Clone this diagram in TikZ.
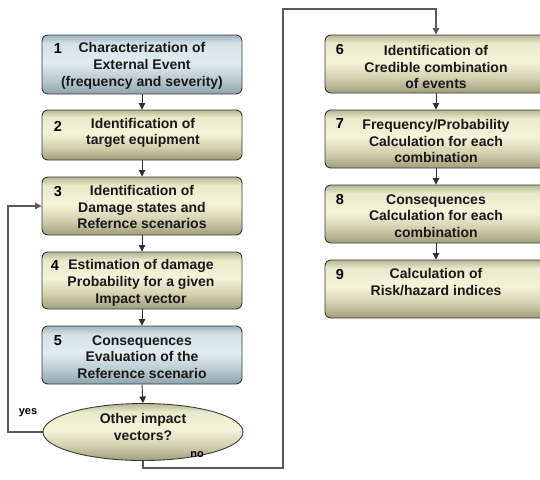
\documentclass[tikz,border=0pt]{standalone}
\usepackage{fontspec}
\setmainfont{Liberation Sans}
\usetikzlibrary{shapes.geometric,arrows.meta}
\definecolor{olT}{HTML}{B6B594}
\definecolor{olU}{HTML}{E9E9CB}
\definecolor{olM}{HTML}{F4F4DA}
\definecolor{olD}{HTML}{D2D0AF}
\definecolor{olB}{HTML}{A09D7A}
\definecolor{blT}{HTML}{9DB2BC}
\definecolor{blU}{HTML}{D3E1E6}
\definecolor{blM}{HTML}{E1ECEF}
\definecolor{blD}{HTML}{BCCCD3}
\definecolor{blB}{HTML}{8FA2AC}
\definecolor{edge}{HTML}{3A3A3A}
\definecolor{wire}{HTML}{303030}
\pgfdeclareverticalshading{olivesh}{100bp}{color(0bp)=(olB); color(25bp)=(olB); color(38bp)=(olD); color(52bp)=(olM); color(68bp)=(olU); color(75bp)=(olT); color(100bp)=(olT)}
\pgfdeclareverticalshading{bluesh}{100bp}{color(0bp)=(blB); color(25bp)=(blB); color(38bp)=(blD); color(52bp)=(blM); color(68bp)=(blU); color(75bp)=(blT); color(100bp)=(blT)}
\tikzset{
  box/.style={draw=edge, line width=0.9pt, rounded corners=6pt, inner sep=0pt},
  olive/.style={shading=olivesh},
  bluish/.style={shading=bluesh},
  txt/.style={align=center, inner sep=0pt, font=\bfseries\fontsize{14}{16.8}\selectfont, text=black!90},
  num/.style={inner sep=0pt, font=\bfseries\fontsize{14.5}{16}\selectfont},
  lab/.style={inner sep=0pt, font=\bfseries\fontsize{11}{13}\selectfont},
  arr/.style={draw=wire, line width=0.9pt, -{Triangle[length=6.5pt,width=6.5pt]}},
}
\begin{document}
\begin{tikzpicture}[x=1pt,y=-1pt]
\useasboundingbox (0,0) rectangle (540,479);
\clip (0,0) rectangle (540,479);
\fill[white] (0,0) rectangle (540,479);

% left column boxes
\node[box,bluish,minimum width=200pt,minimum height=59pt] (b1) at (142,64.5) {};
\node[box,olive,minimum width=200pt,minimum height=50pt] (b2) at (142,135) {};
\node[box,olive,minimum width=200pt,minimum height=58pt] (b3) at (142,206) {};
\node[box,olive,minimum width=200pt,minimum height=57pt] (b4) at (142,280.5) {};
\node[box,bluish,minimum width=200pt,minimum height=58pt] (b5) at (142,355) {};
\node[draw=edge,line width=0.9pt,ellipse,olive,minimum width=200pt,minimum height=57pt,inner sep=0pt] (el) at (143,432) {};

% right column boxes
\node[box,olive,minimum width=222pt,minimum height=58pt] (b6) at (436,64) {};
\node[box,olive,minimum width=222pt,minimum height=58pt] (b7) at (436,139) {};
\node[box,olive,minimum width=222pt,minimum height=58pt] (b8) at (436,214) {};
\node[box,olive,minimum width=222pt,minimum height=58pt] (b9) at (436,289) {};

% texts
\node[txt] (t1) at (142,66) {Characterization of\\External Event\\(frequency and severity)};
\node[txt] (t2) at (143,133) {Identification of\\target equipment};
\node[txt] (t3) at (142,207) {Identification of\\Damage states and\\Refernce scenarios};
\node[txt] (t4) at (141,283) {Estimation of damage\\Probability for a given\\Impact vector};
\node[txt] (t5) at (142,357) {Consequences\\Evaluation of the\\Reference\ scenario};
\node[txt] (te) at (143,427) {Other impact\\vectors?};
\node[txt] (t6) at (436,67) {Identification of\\Credible combination\\of events};
\node[txt] (t7) at (436,141) {Frequency/Probability\\Calculation for each\\combination};
\node[txt] (t8) at (436,216) {Consequences\\Calculation for each\\combination};
\node[txt] (t9) at (436,282) {Calculation of\\Risk/hazard indices};

% numbers
\node[num] (n1) at (58,49) {1};
\node[num] (n2) at (58,126) {2};
\node[num] (n3) at (58,192) {3};
\node[num] (n4) at (55,266) {4};
\node[num] (n5) at (58,341) {5};
\node[num] (n6) at (340,50) {6};
\node[num] (n7) at (340,124) {7};
\node[num] (n8) at (340,200) {8};
\node[num] (n9) at (340,275) {9};

% labels
\node[lab] (yes) at (28,413) {yes};
\node[lab] (no) at (197,455) {no};

% connectors
\draw[arr] (b1.south) -- (b2.north);
\draw[arr] (b2.south) -- (b3.north);
\draw[arr] (b3.south) -- (b4.north);
\draw[arr] (b4.south) -- (b5.north);
\draw[arr] (b5.south) -- (el.north);
\draw[arr] (b6.south) -- (b7.north);
\draw[arr] (b7.south) -- (b8.north);
\draw[arr] (b8.south) -- (b9.north);

\coordinate (ly) at (8,432);
\draw[arr, draw=black!65, line width=1.2pt] (el.west) -- (ly) |- (b3.west);

\coordinate (nb) at (143,468);
\coordinate (nt) at (283,9);
\draw[arr, draw=black!65, line width=1.2pt] (el.south) -- (nb) -| (nt) -| (b6.north);
\end{tikzpicture}
\end{document}
